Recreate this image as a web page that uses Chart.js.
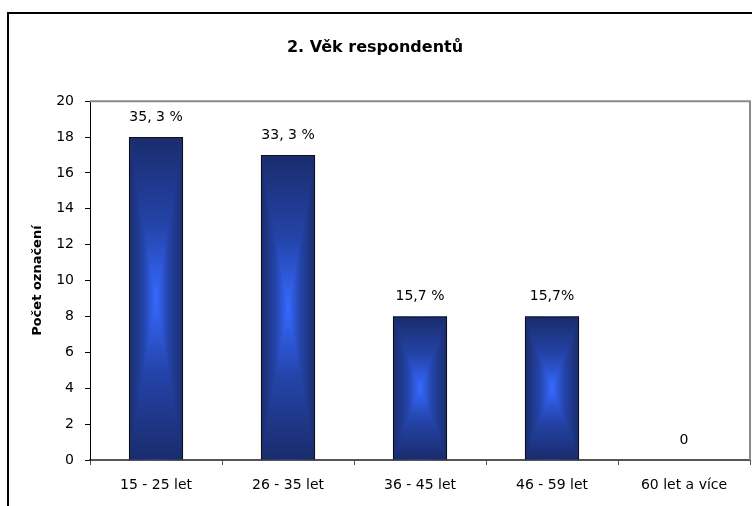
<!DOCTYPE html>
<html>
<head>
<meta charset="utf-8">
<script src="https://cdn.jsdelivr.net/npm/chart.js@4/dist/chart.umd.min.js"></script>
<style>
  html, body { margin: 0; padding: 0; background: #fff; overflow: hidden; }
  #wrap { position: relative; width: 752px; height: 506px; }
  #frame { position: absolute; left: 7px; top: 12px; width: 800px; height: 600px; border: 2px solid #000; box-sizing: border-box; pointer-events: none; }
  canvas { position: absolute; left: 0; top: 0; }
</style>
</head>
<body>
<div id="wrap">
  <canvas id="c" width="752" height="506"></canvas>
  <div id="frame"></div>
</div>
<script>
/* Věk respondentů – counts per age group, percent labels above bars */
const categories = ["15 - 25 let", "26 - 35 let", "36 - 45 let", "46 - 59 let", "60 let a více"];
const counts = [18, 17, 8, 8, 0];
const barLabels = ["35, 3 %", "33, 3 %", "15,7 %", "15,7%", "0"];
const yMin = 0, yMax = 20, yStep = 2;

const FONT = "'DejaVu Sans', sans-serif";
const EDGE = "#1a2c6c", MID = "#2444aa", CENTER = "#3569ff";

// Excel-style "from centre" fill: horizontal gradient underneath, top/bottom wedges with vertical gradients
const centreFill = {
  id: "centreFill",
  beforeDatasetsDraw(chart) {
    const ctx = chart.ctx;
    const grad = (x0, y0, x1, y1) => {
      const g = ctx.createLinearGradient(x0, y0, x1, y1);
      g.addColorStop(0, EDGE); g.addColorStop(0.55, MID); g.addColorStop(1, CENTER);
      return g;
    };
    chart.getDatasetMeta(0).data.forEach((b) => {
      const l = b.x - b.width / 2, r = b.x + b.width / 2;
      const t = Math.min(b.y, b.base), bt = Math.max(b.y, b.base);
      if (bt - t < 1) return;
      const cx = b.x, cy = (t + bt) / 2;
      ctx.save();
      const h = ctx.createLinearGradient(l, 0, r, 0);
      h.addColorStop(0, EDGE); h.addColorStop(0.275, MID); h.addColorStop(0.5, CENTER);
      h.addColorStop(0.725, MID); h.addColorStop(1, EDGE);
      ctx.fillStyle = h; ctx.fillRect(l, t, r - l, bt - t);
      ctx.fillStyle = grad(0, t, 0, cy);
      ctx.beginPath(); ctx.moveTo(l, t); ctx.lineTo(r, t); ctx.lineTo(cx, cy); ctx.closePath(); ctx.fill();
      ctx.fillStyle = grad(0, bt, 0, cy);
      ctx.beginPath(); ctx.moveTo(l, bt); ctx.lineTo(r, bt); ctx.lineTo(cx, cy); ctx.closePath(); ctx.fill();
      ctx.restore();
    });
  },
  afterDatasetsDraw(chart) {
    const ctx = chart.ctx;
    ctx.save();
    ctx.font = "14px " + FONT; ctx.fillStyle = "#000";
    ctx.textAlign = "center"; ctx.textBaseline = "middle";
    chart.getDatasetMeta(0).data.forEach((b, i) => ctx.fillText(barLabels[i], b.x, b.y - 20));
    ctx.restore();
  },
  afterDraw(chart) {
    const a = chart.chartArea, ctx = chart.ctx;
    ctx.save();
    ctx.strokeStyle = "#8a8a8a"; ctx.lineWidth = 2;
    ctx.beginPath(); ctx.moveTo(a.left, a.top); ctx.lineTo(a.right, a.top); ctx.lineTo(a.right, a.bottom); ctx.stroke();
    ctx.restore();
  }
};

new Chart(document.getElementById("c"), {
  type: "bar",
  data: { labels: categories, datasets: [{ data: counts, backgroundColor: "rgba(0,0,0,0)", borderColor: "#111", borderWidth: 1, barPercentage: 0.41, categoryPercentage: 1 }] },
  options: {
    responsive: false, animation: false, devicePixelRatio: 1,
    layout: { padding: { left: 0, right: 2, top: 0, bottom: 0 } },
    plugins: {
      legend: { display: false }, tooltip: { enabled: false },
      title: { display: true, text: "2. Věk respondentů", color: "#000", font: { family: FONT, size: 16, weight: "bold" }, padding: { top: 38, bottom: 44 } }
    },
    scales: {
      x: {
        grid: { drawOnChartArea: false, tickLength: 5, color: "#555", offset: true },
        border: { color: "#555", width: 2 },
        ticks: { color: "#000", font: { family: FONT, size: 14 }, padding: 12, maxRotation: 0, autoSkip: false },
        afterFit: (s) => { s.height = 46; }
      },
      y: {
        min: yMin, max: yMax,
        grid: { drawOnChartArea: false, tickLength: 5, color: "#000" },
        border: { color: "#000", width: 1 },
        ticks: { stepSize: yStep, color: "#000", font: { family: FONT, size: 14 }, padding: 11 },
        title: { display: true, text: "Počet označení", color: "#000", font: { family: FONT, size: 13, weight: "bold" }, padding: { top: 30, bottom: 0 } },
        afterFit: (s) => { s.width = 90; }
      }
    }
  },
  plugins: [centreFill]
});
</script>
</body>
</html>
